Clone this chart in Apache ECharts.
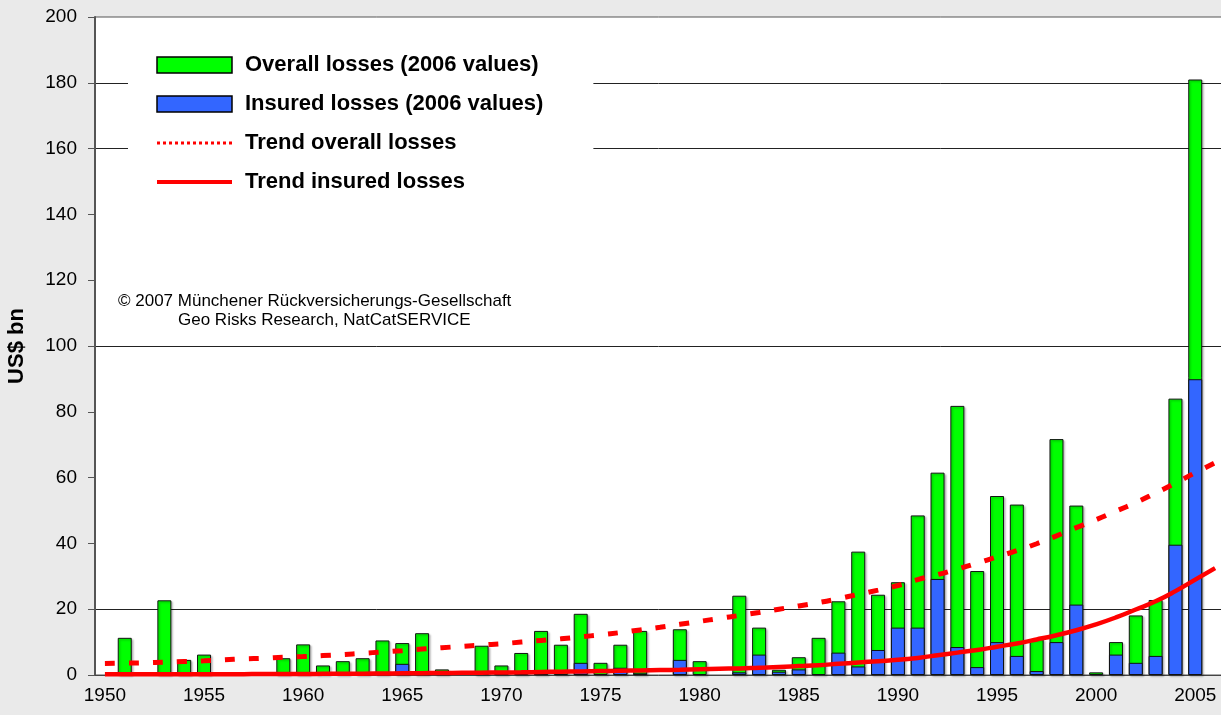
<!DOCTYPE html>
<html>
<head>
<meta charset="utf-8">
<title>Natural catastrophes - losses</title>
<script src="https://cdn.jsdelivr.net/npm/echarts@6/dist/echarts.min.js"></script>
<style>
    html, body { margin: 0; padding: 0; background: #eaeaea; }
    #loss-chart { width: 1221px; height: 715px; }
</style>
</head>
<body>
<div id="loss-chart"></div>
<script>
// years 1950 - 2006
const years = []
for (let y = 1950; y <= 2006; y++) years.push(String(y))

// overall losses (2006 values), US$ bn
const overallLosses = [
    null, 11.3, null, 22.7, 4.6, 6.2, null, null, null, 5.1,
    9.3, 2.9, 4.2, 5.1, 10.5, 9.7, 12.7, 1.7, null, 8.9,
    2.9, 6.7, 13.4, 9.2, 18.6, 3.7, 9.2, 13.4, null, 13.9,
    4.2, null, 24.1, 14.4, 1.6, 5.4, 11.3, 22.4, 37.5, 24.4,
    28.2, 48.5, 61.5, 81.8, 31.6, 54.4, 51.8, 10.9, 71.7, 51.5,
    0.8, 10, 18.1, 22.8, 84, 181, null
]

// insured losses (2006 values), US$ bn
const insuredLosses = [
    null, null, null, null, 0.5, null, null, null, null, null,
    0.5, 0.5, null, null, null, 3.4, null, null, null, 0.5,
    1.2, null, 1.2, null, 3.7, null, 2.2, 0.5, null, 4.6,
    null, null, 0.8, 6.2, 1.0, 1.7, null, 6.8, 2.6, 7.6,
    14.4, 14.4, 29.2, 8.5, 2.4, 10, 5.8, 1.2, 10, 21.4,
    null, 6.2, 3.7, 5.8, 39.6, 89.9, null
]

// trend overall losses
const trendOverall = [
    3.5, 3.6, 3.7, 3.9, 4.1, 4.3, 4.6, 4.9, 5.1, 5.4,
    5.6, 5.9, 6.2, 6.6, 7.0, 7.4, 7.9, 8.3, 8.7, 9.1,
    9.5, 10.0, 10.5, 11.0, 11.6, 12.2, 12.9, 13.7, 14.5, 15.4,
    16.3, 17.2, 18.1, 19.0, 20.0, 21.0, 22.0, 23.2, 24.5, 25.8,
    27.2, 29.0, 30.5, 32.2, 34.0, 35.9, 37.8, 39.9, 42.3, 44.8,
    47.2, 49.8, 52.4, 55.3, 58.3, 61.5, 64.5
]

// trend insured losses
const trendInsured = [
    0.2, 0.2, 0.2, 0.2, 0.2, 0.2, 0.2, 0.25, 0.3, 0.3,
    0.3, 0.35, 0.4, 0.4, 0.45, 0.5, 0.55, 0.6, 0.65, 0.7,
    0.75, 0.8, 0.9, 1.0, 1.1, 1.2, 1.3, 1.4, 1.5, 1.6,
    1.75, 1.9, 2.0, 2.2, 2.4, 2.7, 3.0, 3.4, 3.8, 4.2,
    4.6, 5.2, 6.0, 6.8, 7.6, 8.6, 9.6, 10.8, 12.1, 13.6,
    15.4, 17.5, 19.9, 22.4, 25.5, 29.0, 32.5
]

// y axis ticks
const yMin = 0
const yMax = 200
const yStep = 20

const names = [
    'Overall losses (2006 values)',
    'Insured losses (2006 values)',
    'Trend overall losses',
    'Trend insured losses'
]

const fontFamily = 'Liberation Sans, Arial, sans-serif'
const clear = 'rgba(0,0,0,0)'

const myChart = echarts.init(document.getElementById('loss-chart'))

const option = {
    backgroundColor: '#eaeaea',
    animation: false,
    textStyle: { fontFamily: fontFamily },
    grid: {
        left: 95,
        top: 17,
        right: -4,
        bottom: 40,
        outerBoundsMode: 'none',
        containLabel: false,
        show: true,
        backgroundColor: '#ffffff',
        borderColor: '#555',
        borderWidth: 1
    },
    legend: {
        orient: 'vertical',
        left: 128,
        top: 41,
        padding: [13, 50, 14, 27],
        backgroundColor: '#ffffff',
        itemWidth: 75,
        itemHeight: 16,
        itemGap: 17,
        textStyle: {
            fontSize: 22,
            lineHeight: 22,
            fontWeight: 'bold',
            color: '#000',
            padding: [0, 0, 0, 8]
        },
        data: [
            { name: names[0], icon: 'rect', itemStyle: { borderColor: '#000', borderWidth: 1.5 } },
            { name: names[1], icon: 'rect', itemStyle: { borderColor: '#000', borderWidth: 1.5 } },
            { name: names[2], itemStyle: { opacity: 0 }, lineStyle: { type: 'dotted', width: 3 } },
            { name: names[3], itemStyle: { opacity: 0 }, lineStyle: { type: 'solid', width: 4 } }
        ]
    },
    xAxis: {
        type: 'category',
        data: years,
        boundaryGap: true,
        axisLine: { lineStyle: { color: '#444', width: 1 } },
        axisTick: { interval: 0, length: 6, lineStyle: { color: '#444' } },
        axisLabel: { interval: 4, fontSize: 19, color: '#000', margin: 11 },
        splitLine: { show: false }
    },
    yAxis: {
        type: 'value',
        min: yMin,
        max: yMax,
        interval: yStep,
        name: 'US$ bn',
        nameLocation: 'middle',
        nameRotate: 90,
        nameGap: 67,
        nameTextStyle: { fontSize: 22, fontWeight: 'bold', color: '#000' },
        axisLine: { show: true, lineStyle: { color: '#555', width: 2 } },
        axisTick: { show: true, length: 7, lineStyle: { color: '#555' } },
        axisLabel: { fontSize: 19, color: '#000', margin: 18 },
        // only some gridlines are drawn in the original (20, 100, 160, 180)
        splitLine: {
            show: true,
            lineStyle: {
                width: 1,
                color: [clear, '#222', clear, clear, clear, '#222', clear, clear, '#222', '#222', clear]
            }
        }
    },
    graphic: [
        {
            type: 'text', left: 118, top: 293, z: 10,
            style: { text: '© 2007 Münchener Rückversicherungs-Gesellschaft', fontSize: 17, fill: '#000', fontFamily: fontFamily }
        },
        {
            type: 'text', left: 178, top: 312, z: 10,
            style: { text: 'Geo Risks Research, NatCatSERVICE', fontSize: 17, fill: '#000', fontFamily: fontFamily }
        }
    ],
    series: [
        {
            name: names[0],
            type: 'bar',
            data: overallLosses,
            barWidth: 14,
            itemStyle: {
                color: '#00ff00',
                borderColor: '#111',
                borderWidth: 1,
                shadowColor: 'rgba(0,0,0,0.25)',
                shadowBlur: 2,
                shadowOffsetX: 1.5,
                shadowOffsetY: 1.5
            }
        },
        {
            name: names[1],
            type: 'bar',
            data: insuredLosses,
            barWidth: 14,
            barGap: '-100%',
            itemStyle: { color: '#3366ff', borderColor: '#111', borderWidth: 1 }
        },
        {
            name: names[2],
            type: 'line',
            data: trendOverall,
            smooth: true,
            symbol: 'none',
            z: 5,
            itemStyle: { color: '#ff0000' },
            lineStyle: { color: '#ff0000', width: 5, type: [10, 14] }
        },
        {
            name: names[3],
            type: 'line',
            data: trendInsured,
            smooth: true,
            symbol: 'none',
            z: 5,
            itemStyle: { color: '#ff0000' },
            lineStyle: { color: '#ff0000', width: 4.5 }
        }
    ]
}

myChart.setOption(option)
</script>
</body>
</html>
